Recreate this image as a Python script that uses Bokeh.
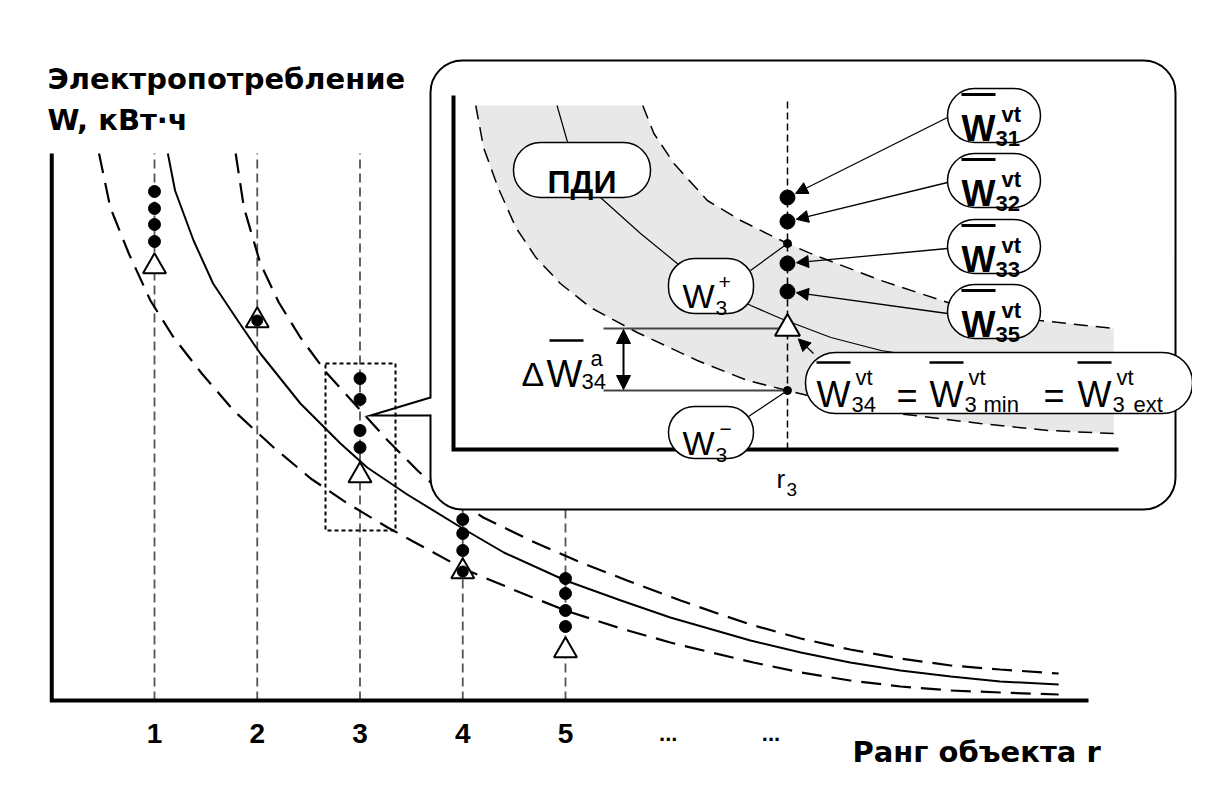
from bokeh.plotting import figure
from bokeh.models import Range1d, Arrow, NormalHead, ColumnDataSource
from bokeh.core.properties import value
from bokeh.embed import file_html
from bokeh.resources import INLINE

FONT = "Liberation Sans"
FONT_WIDE = "DejaVu Sans"

# ---------------- data: main chart (rank r, consumption W, relative units) ----------------
rank_ticks = [1, 2, 3, 4, 5]
rank_tick_labels = ["1", "2", "3", "4", "5"]
ellipsis_ranks = [6, 7]
ellipsis_labels = ["...", "..."]

mid_r = [1.13, 1.20, 1.38, 1.57, 1.81, 2.03, 2.42, 2.81, 3.07, 3.46, 4.00, 4.40, 5.00, 5.54, 6.02,
         6.80, 7.29, 7.77, 8.26, 8.75, 9.23, 9.80]
mid_w = [10.94, 10.20, 9.20, 8.34, 7.60, 6.94, 5.94, 5.14, 4.66, 4.12, 3.44, 2.96, 2.40, 2.00, 1.66,
         1.20, 0.96, 0.76, 0.60, 0.48, 0.38, 0.32]
lo_r = [0.46, 0.57, 0.75, 0.96, 1.18, 1.46, 1.77, 2.16, 2.52, 2.88, 3.27, 3.59, 4.00, 4.56, 5.00,
        5.54, 6.02, 6.38, 6.83, 7.29, 7.77, 8.26, 8.75, 9.23, 9.80]
lo_w = [10.94, 9.86, 8.94, 8.00, 7.28, 6.54, 5.80, 5.06, 4.44, 3.94, 3.46, 3.10, 2.64, 2.16, 1.80,
        1.44, 1.16, 0.98, 0.76, 0.56, 0.40, 0.28, 0.20, 0.16, 0.12]
up_r = [1.79, 1.87, 2.03, 2.21, 2.42, 2.68, 2.98, 3.27, 3.56, 3.72, 4.20, 4.66, 5.15, 5.60, 6.12,
        6.51, 6.80, 7.29, 7.77, 8.26, 8.75, 9.23, 9.80]
up_w = [10.94, 9.86, 8.74, 7.96, 7.26, 6.54, 5.86, 5.20, 4.60, 4.30, 3.66, 3.20, 2.76, 2.40, 2.00,
        1.72, 1.52, 1.24, 1.02, 0.84, 0.70, 0.62, 0.54]

pts_r = [1, 1, 1, 1, 3, 3, 3, 3, 4, 4, 4, 5, 5, 5, 5]
pts_w = [10.18, 9.84, 9.52, 9.18, 6.44, 6.02, 5.40, 5.06, 3.62, 3.34, 3.00, 2.44, 2.14, 1.80, 1.48]
tri_r = [1, 2, 3, 4, 5]
tri_w = [8.68, 7.60, 4.50, 2.58, 1.00]
tri_dot_r = [2, 4]
tri_dot_w = [7.60, 2.58]

# ---------------- data: inset (zoom around rank r3) ----------------
ins_r3 = 3.0
ins_pts_w = [5.04, 4.56, 3.72, 3.16]
ins_pts_sub = ["31", "32", "33", "35"]
ins_plus_w = 4.12
ins_minus_w = 1.18
ins_tri_w = 2.42

ins_lo_r = [0.20, 0.27, 0.40, 0.56, 0.74, 0.96, 1.23, 1.65, 2.19, 2.64, 3.00, 3.48, 3.99, 4.73, 5.34, 5.93]
ins_lo_w = [6.88, 6.04, 5.24, 4.44, 3.84, 3.32, 2.84, 2.34, 1.78, 1.38, 1.18, 0.92, 0.72, 0.52, 0.38, 0.32]
ins_up_r = [1.70, 1.80, 1.98, 2.28, 2.58, 2.87, 3.00, 3.23, 3.84, 4.44, 5.27, 5.93]
ins_up_w = [6.88, 6.32, 5.72, 4.98, 4.58, 4.26, 4.12, 3.90, 3.38, 2.94, 2.58, 2.42]
ins_mid_r = [0.93, 1.02, 1.14, 1.32, 1.68, 2.01, 2.35, 2.67, 2.94, 3.39, 3.84, 4.91, 5.93]
ins_mid_w = [6.88, 6.18, 5.58, 5.04, 4.32, 3.72, 3.24, 2.88, 2.62, 2.24, 1.98, 1.62, 1.42]

# ---------------- layout (pixel positions on the page) ----------------
PX0, PX1, PY0, PY1 = 0, 1192, 772, 0
M_X0, M_XS, M_Y0, M_YS = 51.25, 102.75, 700.0, 50.0
I_X0, I_XS, I_Y0, I_YS = 453.0, 111.33, 449.0, 50.0


def ipx(X):
    return (X - I_X0) / I_XS


def ipy(Y):
    return (I_Y0 - Y) / I_YS


p = figure(width=1192, height=772, x_range=Range1d(PX0, PX1), y_range=Range1d(PY0, PY1),
           output_backend="svg", toolbar_location=None, min_border=0,
           x_axis_location=None, y_axis_location=None)
p.grid.visible = False
p.outline_line_color = None
p.background_fill_color = "white"
p.border_fill_color = "white"
p.extra_x_ranges = {"mx": Range1d((PX0 - M_X0) / M_XS, (PX1 - M_X0) / M_XS),
                    "ix": Range1d((PX0 - I_X0) / I_XS, (PX1 - I_X0) / I_XS)}
p.extra_y_ranges = {"my": Range1d((M_Y0 - PY0) / M_YS, (M_Y0 - PY1) / M_YS),
                    "iy": Range1d((I_Y0 - PY0) / I_YS, (I_Y0 - PY1) / I_YS)}
M = dict(x_range_name="mx", y_range_name="my")
I = dict(x_range_name="ix", y_range_name="iy")


def T(xs, ys, texts, size, bold=False, align="left", font=FONT, **kw):
    p.text(x=xs, y=ys, text=texts, text_font=value(font), text_font_size=f"{size}px",
           text_font_style="bold" if bold else "normal", text_align=align,
           text_baseline="alphabetic", text_color="black", **kw)


# ---------------- main chart ----------------
top_w = (M_Y0 - 153) / M_YS
p.segment(x0=rank_ticks, y0=[0] * 5, x1=rank_ticks, y1=[top_w] * 5, line_color="#555555",
          line_width=1.8, line_dash="9 5", **M)
p.line(lo_r, lo_w, line_color="black", line_width=2.2, line_dash="20 10", **M)
p.line(up_r, up_w, line_color="black", line_width=2.2, line_dash="20 10", **M)
p.line(mid_r, mid_w, line_color="black", line_width=2, **M)
p.quad(left=[325], right=[395], top=[363], bottom=[530], fill_color=None, line_color="black",
       line_width=2, line_dash="4 3")
p.scatter(tri_r, tri_w, marker="triangle", size=23, fill_color="white", line_color="black",
          line_width=2, **M)
p.scatter(tri_dot_r, tri_dot_w, size=11, fill_color="black", line_color="black", **M)
p.scatter(pts_r, pts_w, size=12, fill_color="black", line_color="black", **M)
p.line([0, 0, (1088 - M_X0) / M_XS], [top_w, 0, 0], line_color="black", line_width=4,
       line_join="miter", **M)
T(rank_ticks, [(M_Y0 - 733) / M_YS] * 5, rank_tick_labels, 28, bold=True, align="center", **M)
T(ellipsis_ranks, [(M_Y0 - 733) / M_YS] * 2, ellipsis_labels, 22, bold=True, align="center", **M)
T([47, 47], [78, 119], ["Электропотребление", "W, кВт·ч"], 29, bold=True, font=FONT_WIDE)
T([852], [751], ["Ранг объекта r"], 29, bold=True, font=FONT_WIDE)

# ---------------- inset frame with callout ----------------
p.quad(left=[430], right=[1175], top=[60], bottom=[509], border_radius=32,
       fill_color="white", line_color="black", line_width=2)
p.quad(left=[427], right=[433], top=[398], bottom=[414], fill_color="white", line_color=None)
p.line([430, 370, 430], [397, 415, 415], line_color="black", line_width=2, line_join="miter")

# ---------------- inset content ----------------
band_r = ins_up_r + ins_lo_r[::-1]
band_w = ins_up_w + ins_lo_w[::-1]
p.patch(band_r, band_w, fill_color="#e8e8e8", line_color=None, **I)
p.line(ins_lo_r, ins_lo_w, line_color="black", line_width=1.5, line_dash="14 8", **I)
p.line(ins_up_r, ins_up_w, line_color="black", line_width=1.5, line_dash="14 8", **I)
p.line(ins_mid_r, ins_mid_w, line_color="black", line_width=1.2, **I)
p.segment(x0=[ins_r3], y0=[0], x1=[ins_r3], y1=[ipy(98)], line_color="black", line_width=1.5,
          line_dash="7 4", **I)
p.line([0, 0, ipx(1118)], [ipy(95), 0, 0], line_color="black", line_width=4, line_join="miter", **I)

# delta annotation
p.segment(x0=[ipx(603)] * 2, y0=[ins_tri_w, ins_minus_w], x1=[ins_r3] * 2,
          y1=[ins_tri_w, ins_minus_w], line_color="#444444", line_width=2, **I)
p.add_layout(Arrow(x_start=ipx(623), y_start=ins_tri_w - 0.02, x_end=ipx(623), y_end=ins_minus_w + 0.02,
                   start=NormalHead(size=14, fill_color="black", line_color="black", line_width=1),
                   end=NormalHead(size=14, fill_color="black", line_color="black", line_width=1),
                   line_width=2, line_color="black", **I))

# leaders for W3+ / W3-
p.segment(x0=[ipx(750), ipx(748)], y0=[ipy(270), ipy(416)], x1=[ins_r3, ins_r3],
          y1=[ins_plus_w, ins_minus_w], line_color="black", line_width=1.2, **I)

# points at r3
p.scatter([ins_r3] * 4, ins_pts_w, size=15, fill_color="black", line_color="black", **I)
p.scatter([ins_r3] * 2, [ins_plus_w, ins_minus_w], size=8, fill_color="black", line_color="black", **I)
p.scatter([ins_r3], [ins_tri_w], marker="triangle", size=25, fill_color="white", line_color="black",
          line_width=2, **I)


def tip_toward(r, w, sx, sy, gap):
    dxp = (sx - r) * I_XS
    dyp = (sy - w) * I_YS
    d = (dxp ** 2 + dyp ** 2) ** 0.5
    return r + gap * dxp / d / I_XS, w + gap * dyp / d / I_YS


lab_cy = [115, 180, 246, 311]
starts = [(ipx(947), ipy(cy + 2)) for cy in lab_cy]
x0s, y0s, x1s, y1s = [], [], [], []
for (sx, sy), w in zip(starts, ins_pts_w):
    tx, ty = tip_toward(ins_r3, w, sx, sy, 9)
    x0s.append(sx); y0s.append(sy); x1s.append(tx); y1s.append(ty)
sx, sy = ipx(813), ipy(353)
tx, ty = tip_toward(ins_r3, ins_tri_w, sx, sy, 15)
x0s.append(sx); y0s.append(sy); x1s.append(tx); y1s.append(ty)
asrc = ColumnDataSource(dict(x0=x0s, y0=y0s, x1=x1s, y1=y1s))
p.add_layout(Arrow(x_start="x0", y_start="y0", x_end="x1", y_end="y1", source=asrc,
                   end=NormalHead(size=12, fill_color="black", line_color="black", line_width=1),
                   line_width=1.3, line_color="black", **I))

# pills
p.quad(left=[513], right=[650], top=[142], bottom=[197], border_radius=27, fill_color="white",
       line_color="black", line_width=1.5)
p.quad(left=[668, 668], right=[753, 753], top=[258, 406], bottom=[313, 458], border_radius=26,
       fill_color="white", line_color="black", line_width=1.5)
p.quad(left=[947] * 4, right=[1040] * 4, top=[c - 27 for c in lab_cy], bottom=[c + 27 for c in lab_cy],
       border_radius=27, fill_color="white", line_color="black", line_width=1.5)
p.quad(left=[805], right=[1192], top=[352], bottom=[413], border_radius=30, fill_color="white",
       line_color="black", line_width=1.5)

# pill texts
T([581.5], [181], ["ПДИ"], 32, bold=True, align="center")
T([682, 682], [295, 442], ["W", "W"], 34)
T([715, 715], [307, 454], ["3", "3"], 21)
T([718, 719], [281, 428], ["+", "−"], 21)

T([961] * 4, [c + 13 for c in lab_cy], ["W"] * 4, 36, bold=True)
T([1001] * 4, [c - 1 for c in lab_cy], ["vt"] * 4, 22, bold=True)
T([995] * 4, [c + 23 for c in lab_cy], ins_pts_sub, 22, bold=True)
p.segment(x0=[961] * 4, y0=[c - 21 for c in lab_cy], x1=[995] * 4, y1=[c - 21 for c in lab_cy],
          line_color="black", line_width=3)

# formula
fx = [816, 929, 1077]
T(fx, [394] * 3, ["W"] * 3, 36)
T([x + 39 for x in fx], [377] * 3, ["vt"] * 3, 22)
T([x + 35 for x in fx], [404] * 3, ["34", "3", "3"], 22)
T([983, 1133], [404, 404], ["min", "ext"], 22)
T([896, 1043], [395, 395], ["=", "="], 36)
p.segment(x0=fx, y0=[362] * 3, x1=[x + 34 for x in fx], y1=[362] * 3, line_color="black", line_width=2.5)

# delta label
T([521], [373], ["Δ"], 34)
T([546], [373], ["W"], 38)
T([590], [358], ["a"], 22)
T([581], [381], ["34"], 22)
p.segment(x0=[549], y0=[340], x1=[583], y1=[340], line_color="black", line_width=2.5)

# r3 label
T([776], [478], ["r"], 26)
T([786], [489], ["3"], 19)

open("out.html", "w").write(file_html(p, INLINE))
